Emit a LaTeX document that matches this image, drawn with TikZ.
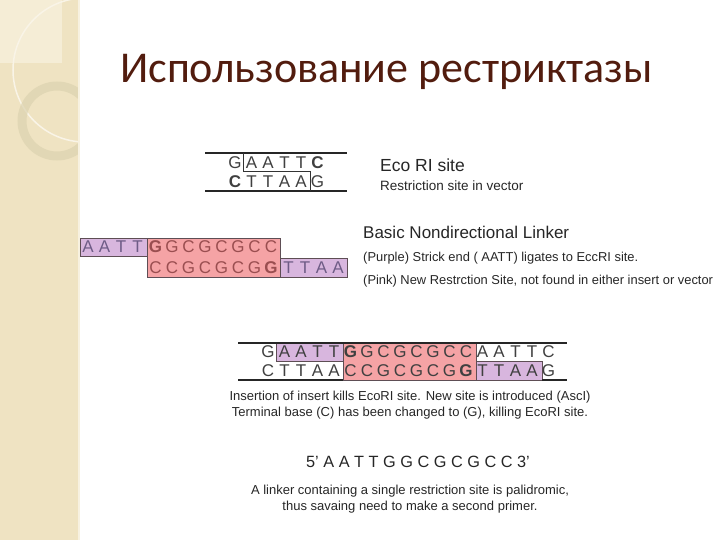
\documentclass[tikz,border=0pt]{standalone}
\usepackage{fontspec}
\setmainfont{Liberation Sans}
\newfontfamily\titlefont{Carlito}
\definecolor{band}{HTML}{EFE3C2}
\definecolor{bandlight}{HTML}{F5EDD6}
\definecolor{ring}{HTML}{DCD3B0}
\definecolor{titlebrown}{HTML}{521C0E}
\definecolor{linkpink}{HTML}{F5A3A5}
\definecolor{linkpurple}{HTML}{D8B6DE}
\definecolor{boxedge}{HTML}{5E4E55}
\definecolor{pinktext}{HTML}{9A4E50}
\definecolor{purpletext}{HTML}{6E5C86}
\tikzset{
  nuc/.style={font=\fontsize{17}{17}\selectfont, inner sep=0pt, text=black!75},
  strand/.style={line width=1.8pt, black!85},
  pinkbox/.style={fill=linkpink, draw=boxedge, line width=1pt},
  purplebox/.style={fill=linkpurple, draw=boxedge, line width=1pt},
  note/.style={anchor=west, inner sep=0pt, text=black!85},
}
\begin{document}
\begin{tikzpicture}[x=1pt,y=-1pt]
			\useasboundingbox (0,0) rectangle (720,540);
			% side band
			\fill[band] (0,0) rectangle (78,540);
			\fill[bandlight] (0,0) rectangle (62,63);
			\begin{scope}
				\clip (0,0) rectangle (78,540);
				\draw[white!60!band, line width=1.5pt] (85,70) circle (72pt);
				\draw[ring, line width=9pt, opacity=.7] (57,121) circle (35pt);
			\end{scope}
			\draw[white!50!band, line width=1.5pt] (79,0)--(79,540);
			% title
			\node[anchor=base west, inner sep=0pt, text=titlebrown, font=\titlefont\fontsize{44}{44}\selectfont] (title) at (120,83) {Использование рестриктазы};
			% Eco RI site
			\draw[strand] (205,153)--(347,153);
			\draw[strand] (205,191)--(347,191);
			\draw[line width=1pt, black!80] (243,153)--(243,172)--(310,172)--(310,191);
			\foreach \b [count=\i] in {G,A,A,T,T,{\textbf{C}}}
				\node[nuc] (eco-t\i) at ({235+16.5*(\i-1)},163) {\b};
			\foreach \b [count=\i] in {{\textbf{C}},T,T,A,A,G}
				\node[nuc] (eco-b\i) at ({235+16.5*(\i-1)},182) {\b};
			\node[note, font=\fontsize{17.5}{18}\selectfont] (eco) at (380,165) {Eco RI site};
			\node[note, font=\fontsize{13.5}{14}\selectfont] (ecosub) at (380,186) {Restriction site in vector};
			% linker
			\fill[purplebox] (80,238) rectangle (147,256);
			\fill[purplebox] (280,258) rectangle (347,277);
			\fill[pinkbox] (147,238) rectangle (280,277);
			\foreach \b [count=\i] in {A,A,T,T}
				\node[nuc, text=purpletext] (lk-p\i) at ({88+16.5*(\i-1)},247) {\b};
			\foreach \b [count=\i] in {{\textbf{G}},G,C,G,C,G,C,C}
				\node[nuc, text=pinktext] (lk-t\i) at ({155.5+16.5*(\i-1)},247) {\b};
			\foreach \b [count=\i] in {C,C,G,C,G,C,G,{\textbf{G}}}
				\node[nuc, text=pinktext] (lk-b\i) at ({155.5+16.5*(\i-1)},268) {\b};
			\foreach \b [count=\i] in {T,T,A,A}
				\node[nuc, text=purpletext] (lk-q\i) at ({288.5+16.5*(\i-1)},268) {\b};
			\node[note, font=\fontsize{17}{18}\selectfont] (linker) at (363,232) {Basic Nondirectional Linker};
			\node[note, font=\fontsize{12.9}{14}\selectfont] (purple) at (363,258) {(Purple) Strick end ( AATT) ligates to EccRI site.};
			\node[note, font=\fontsize{12.9}{14}\selectfont] (pink) at (363,281) {(Pink) New Restrction Site, not found in either insert or vector};
			% insertion
			\fill[purplebox] (276,343) rectangle (343,361);
			\fill[purplebox] (476,361) rectangle (542,380);
			\fill[pinkbox] (343,343) rectangle (476,380);
			\draw[strand] (238,343)--(567,343);
			\draw[strand] (238,380)--(343,380);
			\draw[strand] (542,380)--(567,380);
			\foreach \b [count=\i] in {G,A,A,T,T,{\textbf{G}},G,C,G,C,G,C,C,A,A,T,T,C}
				\node[nuc] (ins-t\i) at ({268+16.5*(\i-1)},352) {\b};
			\foreach \b [count=\i] in {C,T,T,A,A,C,C,G,C,G,C,G,{\textbf{G}},T,T,A,A,G}
				\node[nuc] (ins-b\i) at ({268+16.5*(\i-1)},371) {\b};
			\node[font=\fontsize{13}{16}\selectfont, align=center, inner sep=0pt, text=black!85] (kills) at (410,405) {Insertion of insert kills EcoRI site. New site is introduced (AscI)\\Terminal base (C) has been changed to (G), killing EcoRI site.};
			\node[font=\fontsize{16.3}{17}\selectfont, inner sep=0pt, text=black!85] (seq) at (418,462) {5' A A T T G G C G C G C C 3'};
			\node[font=\fontsize{13}{16.5}\selectfont, align=center, inner sep=0pt, text=black!85] (palin) at (410,499) {A linker containing a single restriction site is palidromic,\\thus savaing need to make a second primer.};
		\end{tikzpicture}
\end{document}
